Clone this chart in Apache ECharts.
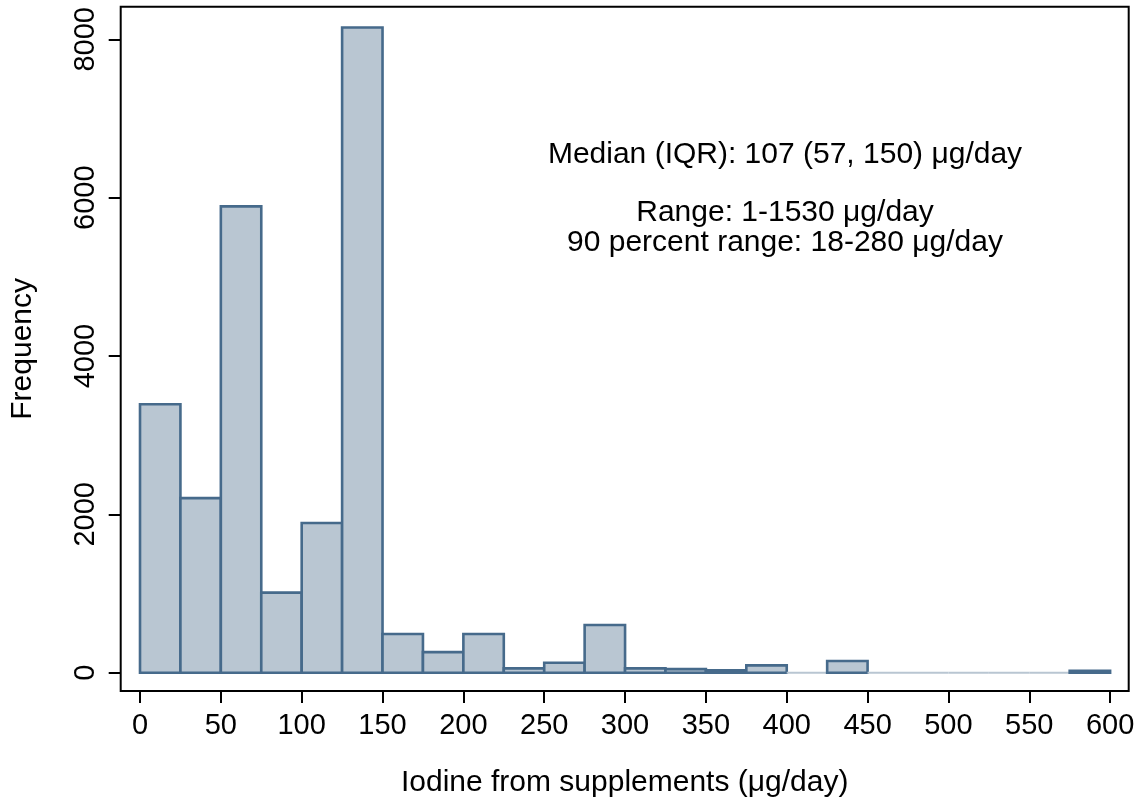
<!DOCTYPE html>
<html>
<head>
<meta charset="utf-8">
<script src="https://cdn.jsdelivr.net/npm/echarts@6/dist/echarts.min.js"></script>
<style>
html,body{margin:0;padding:0;background:#fff;}
#c{width:1142px;height:807px;}
</style>
</head>
<body>
<div id="c"></div>
<script>
// Bin edges (μg/day)
var binStarts = [0,25,50,75,100,125,150,175,200,225,250,275,300,325,350,375,400,425,450,475,500,525,550,575];
var binEnds   = [25,50,75,100,125,150,175,200,225,250,275,300,325,350,375,400,425,450,475,500,525,550,575,600];
// Frequencies
var counts    = [3390,2205,5890,1012,1890,8150,488,260,488,55,125,602,55,45,30,93,0,148,0,0,0,0,0,25];
// Tick labels
var xTicks = [0,50,100,150,200,250,300,350,400,450,500,550,600];
var yTicks = [0,2000,4000,6000,8000];

var annotationLines = [
  'Median (IQR): 107 (57, 150) μg/day',
  'Range: 1-1530 μg/day',
  '90 percent range: 18-280 μg/day'
];

var data = binStarts.map(function(s,i){ return [s, binEnds[i], counts[i]]; });

var FONT = '"Liberation Sans", Arial, Helvetica, sans-serif';
var fillC = '#b9c6d2';
var edgeC = '#466a8b';

var chart = echarts.init(document.getElementById('c'), null, {renderer:'canvas'});
chart.setOption({
  animation:false,
  backgroundColor:'#fff',
  grid:{left:120.7, right:13.3, top:6.7, bottom:116, containLabel:false, outerBoundsMode:'none',
        show:true, borderColor:'#000', borderWidth:2, backgroundColor:'transparent'},
  xAxis:{
    type:'value', min:-11.94, max:611.5,
    name:'Iodine from supplements (μg/day)', nameLocation:'middle', nameGap:77, nameMoveOverlap:false,
    nameTextStyle:{fontFamily:FONT, fontSize:30, color:'#000'},
    axisLine:{show:false, onZero:false},
    axisTick:{show:true, inside:false, length:12, lineStyle:{color:'#000', width:2}, customValues:xTicks},
    axisLabel:{fontFamily:FONT, fontSize:29, color:'#000', margin:20, customValues:xTicks,
               formatter:function(v){return String(v);}},
    splitLine:{show:false}
  },
  yAxis:{
    type:'value', min:-231, max:8412,
    name:'Frequency', nameLocation:'middle', nameGap:83, nameRotate:90, nameMoveOverlap:false,
    nameTextStyle:{fontFamily:FONT, fontSize:30, color:'#000'},
    axisLine:{show:false, onZero:false},
    axisTick:{show:true, inside:false, length:12, lineStyle:{color:'#000', width:2}, customValues:yTicks},
    axisLabel:{fontFamily:FONT, fontSize:29, color:'#000', margin:20, rotate:90, customValues:yTicks,
               formatter:function(v){return String(v);}},
    splitLine:{show:false}
  },
  series:[{
    type:'custom',
    data:data,
    encode:{x:[0,1], y:2},
    renderItem:function(params, api){
      var s = api.value(0), e = api.value(1), v = api.value(2);
      var p0 = api.coord([s, v]);
      var p1 = api.coord([e, 0]);
      if (v === 0) {
        return {type:'line', shape:{x1:p0[0], y1:p1[1], x2:p1[0], y2:p1[1]},
                style:{stroke:fillC, lineWidth:2}};
      }
      return {
        type:'rect',
        shape:{x:p0[0], y:p0[1], width:p1[0]-p0[0], height:p1[1]-p0[1]},
        style:{fill:fillC, stroke:edgeC, lineWidth:2.6}
      };
    }
  }],
  graphic:[
    {type:'text', x:785, y:155, style:{text:annotationLines[0], font:'30px '+FONT, fill:'#000', align:'center', verticalAlign:'middle'}},
    {type:'text', x:785, y:213, style:{text:annotationLines[1], font:'30px '+FONT, fill:'#000', align:'center', verticalAlign:'middle'}},
    {type:'text', x:785, y:243, style:{text:annotationLines[2], font:'30px '+FONT, fill:'#000', align:'center', verticalAlign:'middle'}}
  ]
});
</script>
</body>
</html>
